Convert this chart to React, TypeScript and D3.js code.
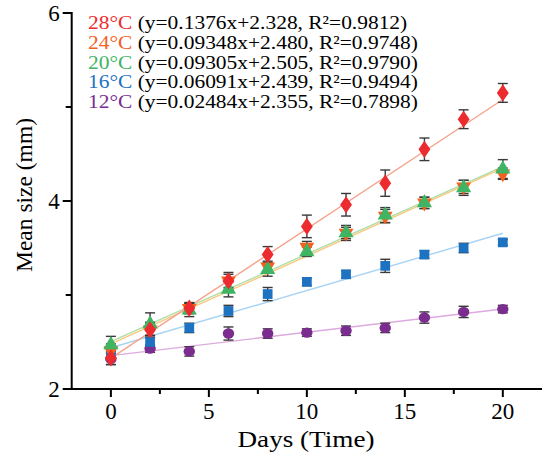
import React from 'react';
import * as d3 from 'd3';

// days sampled
const days = [0, 2, 4, 6, 8, 10, 12, 14, 16, 18, 20];

// mean size (mm) per temperature
const mean28 = [2.33, 2.63, 2.86, 3.15, 3.43, 3.73, 3.96, 4.19, 4.55, 4.87, 5.15];
const mean24 = [2.41, 2.63, 2.86, 3.15, 3.30, 3.51, 3.66, 3.84, 3.98, 4.15, 4.29];
const mean20 = [2.47, 2.69, 2.84, 3.06, 3.27, 3.46, 3.66, 3.85, 3.98, 4.14, 4.34];
const mean16 = [2.38, 2.50, 2.65, 2.83, 3.01, 3.14, 3.22, 3.31, 3.43, 3.50, 3.56];
const mean12 = [2.32, 2.43, 2.40, 2.59, 2.59, 2.60, 2.62, 2.65, 2.76, 2.82, 2.85];

// standard deviations (error bars)
const sd28 = [0.07, 0.08, 0.05, 0.09, 0.085, 0.12, 0.12, 0.14, 0.12, 0.1, 0.1];
const sd24 = [0.07, 0.06, 0.06, 0.07, 0.06, 0.06, 0.06, 0.07, 0.06, 0.07, 0.06];
const sd20 = [0.09, 0.12, 0.07, 0.08, 0.07, 0.05, 0.08, 0.08, 0.06, 0.08, 0.1];
const sd16 = [0.06, 0.05, 0.05, 0.06, 0.07, 0.04, 0.04, 0.07, 0.04, 0.05, 0.03];
const sd12 = [0.06, 0.04, 0.05, 0.07, 0.05, 0.04, 0.05, 0.05, 0.06, 0.06, 0.04];

const seriesNames = ['28°C', '24°C', '20°C', '16°C', '12°C'];
const slopes = [0.1376, 0.09348, 0.09305, 0.06091, 0.02484];
const intercepts = [2.328, 2.480, 2.505, 2.439, 2.355];
const r2 = ['0.9812', '0.9748', '0.9790', '0.9494', '0.7898'];
const slopeLabels = ['0.1376', '0.09348', '0.09305', '0.06091', '0.02484'];
const interceptLabels = ['2.328', '2.480', '2.505', '2.439', '2.355'];

const markerColors = ['#ec2b2f', '#f4601e', '#3fb564', '#1d72c2', '#7b2c8f'];
const lineColors = ['#f5a38a', '#fbc77e', '#b0dea8', '#a9d3f2', '#dcaade'];
const labelColors = ['#ec2b2f', '#f4601e', '#3fb564', '#1d72c2', '#7b2c8f'];
const symbols = [d3.symbolDiamond, d3.symbolTriangle, d3.symbolTriangle, d3.symbolSquare, d3.symbolCircle];
const symbolRotate = [0, 180, 0, 0, 0];
const symbolSizes = [85, 95, 100, 95, 85];

const means = [mean28, mean24, mean20, mean16, mean12];
const sds = [sd28, sd24, sd20, sd16, sd12];

const yTicks = [2, 4, 6];
const yMinor = [3, 5];
const xTicks = [0, 5, 10, 15, 20];
const xMinor = [2.5, 7.5, 12.5, 17.5];

const W = 550;
const H = 456;
const font = '"Liberation Serif", "Times New Roman", serif';

export default function App() {
  const x = d3.scaleLinear().domain([-2, 22]).range([71.7, 542]);
  const y = d3.scaleLinear().domain([2, 6]).range([389, 13]);

  // draw order: 12 at back, 28 in front
  const order = [4, 3, 1, 2, 0];

  return (
    <svg width={W} height={H} style={{ position: 'absolute', left: 0, top: 0, background: '#fff' }}>
      {/* regression lines */}
      {order.map(i => (
        <line
          key={'fit' + i}
          x1={x(0)}
          x2={x(20)}
          y1={y(intercepts[i])}
          y2={y(intercepts[i] + slopes[i] * 20)}
          stroke={lineColors[i]}
          strokeWidth={1.4}
        />
      ))}

      {/* error bars */}
      {order.map(i => (
        <g key={'err' + i} stroke="#3a3a3a" strokeWidth={1.4}>
          {days.map((d, j) => {
            const cx = x(d);
            const y0 = y(means[i][j] - sds[i][j]);
            const y1 = y(means[i][j] + sds[i][j]);
            return (
              <g key={j}>
                <line x1={cx} x2={cx} y1={y0} y2={y1} />
                <line x1={cx - 5} x2={cx + 5} y1={y0} y2={y0} />
                <line x1={cx - 5} x2={cx + 5} y1={y1} y2={y1} />
              </g>
            );
          })}
        </g>
      ))}

      {/* markers */}
      {order.map(i => {
        const path = d3.symbol().type(symbols[i]).size(symbolSizes[i])() || '';
        return (
          <g key={'pts' + i} fill={markerColors[i]}>
            {days.map((d, j) => (
              <path
                key={j}
                d={path}
                transform={`translate(${x(d)},${y(means[i][j])}) rotate(${symbolRotate[i]})${i === 0 ? ' scale(1.2,1)' : i === 4 ? ' scale(1.1,1)' : ''}`}
              />
            ))}
          </g>
        );
      })}

      {/* y axis */}
      <g stroke="#000" strokeWidth={2}>
        <line x1={x(-2)} x2={x(-2)} y1={y(6) - 1} y2={y(2)} />
        {yTicks.map(t => (
          <line key={t} x1={x(-2) - 9} x2={x(-2)} y1={y(t)} y2={y(t)} />
        ))}
        {yMinor.map(t => (
          <line key={t} x1={x(-2) - 6} x2={x(-2)} y1={y(t)} y2={y(t)} />
        ))}
      </g>
      {yTicks.map(t => (
        <text key={t} x={x(-2) - 12} y={y(t)} dy="0.35em" textAnchor="end" fontFamily={font} fontSize={23}>
          {t}
        </text>
      ))}

      {/* x axis */}
      <g stroke="#000" strokeWidth={2}>
        <line x1={x(-2) - 1} x2={x(22)} y1={y(2)} y2={y(2)} />
        {xTicks.map(t => (
          <line key={t} x1={x(t)} x2={x(t)} y1={y(2)} y2={y(2) + 8} />
        ))}
        {xMinor.map(t => (
          <line key={t} x1={x(t)} x2={x(t)} y1={y(2)} y2={y(2) + 5} />
        ))}
      </g>
      {xTicks.map(t => (
        <text key={t} x={x(t)} y={419} textAnchor="middle" fontFamily={font} fontSize={23}>
          {t}
        </text>
      ))}

      {/* axis titles */}
      <text x={306} y={447} textAnchor="middle" fontFamily={font} fontSize={23.5} textLength={137} lengthAdjust="spacingAndGlyphs">
        Days (Time)
      </text>
      <text
        transform={`translate(32,195) rotate(-90)`}
        textAnchor="middle"
        fontFamily={font}
        fontSize={23.5}
        textLength={154}
        lengthAdjust="spacingAndGlyphs"
      >
        Mean size (mm)
      </text>

      {/* legend with fitted equations, glyphs widened like the source */}
      <g transform="translate(88,0) scale(1.1,1)">
        {seriesNames.map((n, i) => (
          <text key={n} x={0} y={29 + i * 19.8} fontFamily={font} fontSize={19.5}>
            <tspan fill={labelColors[i]}>{n}</tspan>
            <tspan fill="#000">{` (y=${slopeLabels[i]}x+${interceptLabels[i]}, R²=${r2[i]})`}</tspan>
          </text>
        ))}
      </g>
    </svg>
  );
}
